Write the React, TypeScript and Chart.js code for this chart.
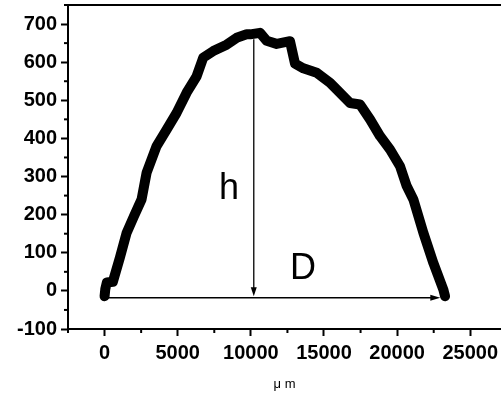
import React, { useEffect, useRef } from "react";
import { Chart, registerables } from "chart.js";
Chart.register(...registerables);

// profile data (x in µm, y height)
const xValues = [0, 50, 157, 568, 1047, 1505, 2000, 2530, 2873, 3557, 4241, 4925, 5609, 6293, 6745, 7428, 8345, 9029, 9712, 9954, 10622, 11080, 11763, 12675, 13018, 13588, 14500, 15410, 15869, 16780, 17463, 18147, 18830, 19514, 20198, 20654, 21110, 21794, 22478, 23162, 23276];
const yValues = [-14, 5, 22, 24, 87, 152, 195, 240, 310, 380, 423, 467, 520, 563, 612, 629, 646, 664, 673, 673, 677, 656, 648, 655, 596, 584, 572, 546, 528, 493, 489, 450, 406, 371, 327, 275, 240, 152, 73, 3, -14];

const xMin = -2500;
const xMax = 27100;
const yMin = -100;
const yMax = 750;
const xMajorTicks = [0, 5000, 10000, 15000, 20000, 25000];
const xMinorTicks = [-2500, 2500, 7500, 12500, 17500, 22500];
const yMajorTicks = [-100, 0, 100, 200, 300, 400, 500, 600, 700];
const yMinorTicks = [-50, 50, 150, 250, 350, 450, 550, 650, 750];
const xTitle = "μ m";

// annotations (data coordinates)
const hArrowX = 10200;
const hArrowTop = 660;
const hArrowBottom = -14;
const dArrowY = -18;
const dArrowStart = 50;
const dArrowEnd = 22950;
const hLabel = { text: "h", x: 8500, y: 266 };
const dLabel = { text: "D", x: 13565, y: 56 };

const FONT = "'Liberation Sans', Arial, sans-serif";

export default function App() {
  const ref = useRef<HTMLCanvasElement>(null);
  useEffect(() => {
    document.body.style.margin = "0";
    document.body.style.overflow = "hidden";
    const overlay = {
      id: "overlay",
      afterDraw(chart: any) {
        const ctx = chart.ctx;
        const xs = chart.scales.x;
        const ys = chart.scales.y;
        const area = chart.chartArea;
        ctx.save();
        ctx.strokeStyle = "#000";
        ctx.fillStyle = "#000";
        // top border
        ctx.lineWidth = 2;
        ctx.beginPath();
        ctx.moveTo(area.left - 1, area.top);
        ctx.lineTo(chart.width, area.top);
        ctx.stroke();
        // minor ticks
        ctx.lineWidth = 2;
        for (const v of xMinorTicks) {
          const px = xs.getPixelForValue(v);
          ctx.beginPath();
          ctx.moveTo(px, area.bottom);
          ctx.lineTo(px, area.bottom + 4);
          ctx.stroke();
        }
        for (const v of yMinorTicks) {
          const py = ys.getPixelForValue(v);
          ctx.beginPath();
          ctx.moveTo(area.left, py);
          ctx.lineTo(area.left - 4, py);
          ctx.stroke();
        }
        // arrows
        ctx.lineWidth = 1.3;
        const ax = xs.getPixelForValue(hArrowX);
        const aTop = ys.getPixelForValue(hArrowTop);
        const aBot = ys.getPixelForValue(hArrowBottom);
        ctx.beginPath();
        ctx.moveTo(ax, aTop);
        ctx.lineTo(ax, aBot - 6);
        ctx.stroke();
        ctx.beginPath();
        ctx.moveTo(ax, aBot);
        ctx.lineTo(ax - 3, aBot - 9);
        ctx.lineTo(ax + 3, aBot - 9);
        ctx.closePath();
        ctx.fill();
        const dy = ys.getPixelForValue(dArrowY);
        const dx0 = xs.getPixelForValue(dArrowStart);
        const dx1 = xs.getPixelForValue(dArrowEnd);
        ctx.beginPath();
        ctx.moveTo(dx0, dy);
        ctx.lineTo(dx1 - 6, dy);
        ctx.stroke();
        ctx.beginPath();
        ctx.moveTo(dx1, dy);
        ctx.lineTo(dx1 - 10, dy - 3);
        ctx.lineTo(dx1 - 10, dy + 3);
        ctx.closePath();
        ctx.fill();
        // labels
        ctx.font = `36px ${FONT}`;
        ctx.textAlign = "center";
        ctx.textBaseline = "middle";
        for (const l of [hLabel, dLabel]) {
          ctx.fillText(l.text, xs.getPixelForValue(l.x), ys.getPixelForValue(l.y));
        }
        ctx.restore();
      },
    };
    const chart = new Chart(ref.current!, {
      type: "scatter",
      data: {
        datasets: [
          {
            data: xValues.map((x, i) => ({ x, y: yValues[i] })),
            showLine: true,
            borderColor: "#000",
            backgroundColor: "#000",
            borderWidth: 10,
            pointRadius: 0,
            tension: 0,
            borderJoinStyle: "round",
            borderCapStyle: "round",
            fill: false,
          },
        ],
      },
      options: {
        animation: false,
        responsive: true,
        maintainAspectRatio: false,
        layout: { padding: { top: 5, left: 0, right: 0, bottom: 0 } },
        plugins: { legend: { display: false }, tooltip: { enabled: false } },
        scales: {
          x: {
            type: "linear",
            position: "bottom",
            min: xMin,
            max: xMax,
            border: { display: true, color: "#000", width: 2 },
            grid: {
              drawOnChartArea: false,
              drawTicks: true,
              tickLength: 7,
              tickWidth: 2,
              tickColor: "#000",
            },
            afterBuildTicks: (s: any) => {
              s.ticks = xMajorTicks.map((v) => ({ value: v }));
            },
            ticks: {
              autoSkip: false,
              maxRotation: 0,
              minRotation: 0,
              color: "#000",
              padding: 5,
              font: { family: FONT, size: 20, weight: "bold" },
              callback: (v: any) => String(v),
            },
            title: {
              display: true,
              text: xTitle,
              color: "#000",
              font: { family: FONT, size: 13 },
              padding: { top: 4, bottom: 2 },
            },
            afterFit: (s: any) => {
              s.height = 65;
              s.paddingLeft = 0;
              s.paddingRight = 0;
            },
          },
          y: {
            type: "linear",
            min: yMin,
            max: yMax,
            border: { display: true, color: "#000", width: 2 },
            grid: {
              drawOnChartArea: false,
              drawTicks: true,
              tickLength: 7,
              tickWidth: 2,
              tickColor: "#000",
            },
            afterBuildTicks: (s: any) => {
              s.ticks = yMajorTicks.map((v) => ({ value: v }));
            },
            ticks: {
              autoSkip: false,
              color: "#000",
              padding: 4,
              font: { family: FONT, size: 20, weight: "bold" },
              callback: (v: any) => String(v),
            },
            afterFit: (s: any) => {
              s.width = 68;
              s.paddingTop = 0;
              s.paddingBottom = 0;
            },
          },
        },
      },
      plugins: [overlay],
    } as any);
    return () => chart.destroy();
  }, []);
  return (
    <div style={{ position: "fixed", left: 0, top: 0, width: 501, height: 394 }}>
      <canvas ref={ref} />
    </div>
  );
}
